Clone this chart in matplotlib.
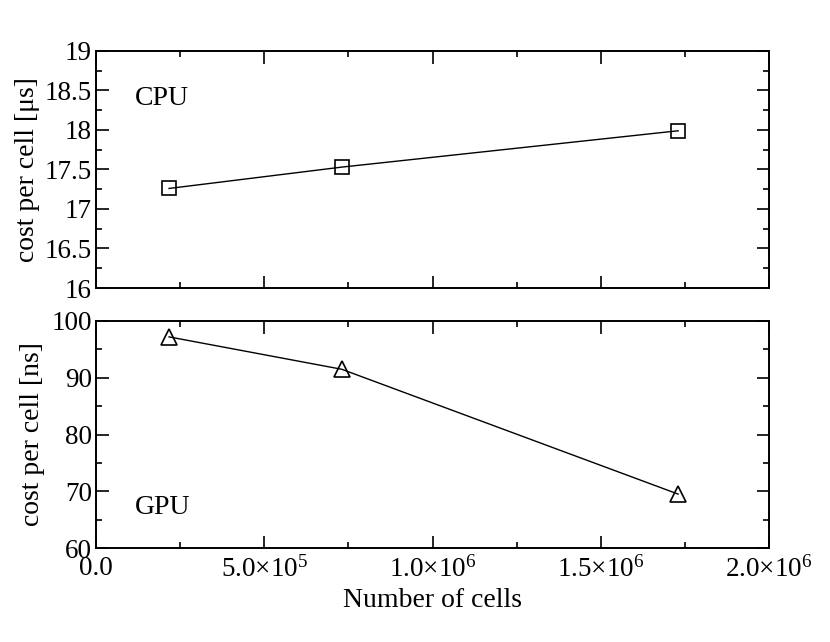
import matplotlib
matplotlib.use("Agg")
import matplotlib.pyplot as plt
from matplotlib.ticker import MultipleLocator, FixedLocator, FixedFormatter

plt.rcParams['font.family'] = ['Liberation Serif', 'DejaVu Serif']
plt.rcParams['mathtext.fontset'] = 'custom'
plt.rcParams['mathtext.rm'] = 'Liberation Serif'
plt.rcParams['mathtext.it'] = 'Liberation Serif:italic'

# data
n_cells = [2.17e5, 7.30e5, 1.73e6]
cpu_cost_us = [17.26, 17.53, 17.99]
gpu_cost_ns = [97.2, 91.5, 69.5]

x_ticks = [0, 5e5, 1e6, 1.5e6, 2e6]
x_tick_labels = ["0.0", r"5.0$\times$10$^{5}$", r"1.0$\times$10$^{6}$",
                 r"1.5$\times$10$^{6}$", r"2.0$\times$10$^{6}$"]

TICK_FS = 19.5
LABEL_FS = 20


def style_axes(ax):
    for s in ax.spines.values():
        s.set_linewidth(1.4)
    ax.tick_params(which='both', direction='in', top=True, right=True,
                   width=1.2, labelsize=TICK_FS, pad=3)
    ax.tick_params(which='major', length=9)
    ax.tick_params(which='minor', length=4.5)
    ax.set_xlim(0, 2e6)
    ax.xaxis.set_major_locator(FixedLocator(x_ticks))
    ax.xaxis.set_minor_locator(MultipleLocator(2.5e5))


fig = plt.figure(figsize=(8.3, 6.42), dpi=100)
ax1 = fig.add_axes([0.1157, 0.5514, 0.8108, 0.3692])
ax2 = fig.add_axes([0.1157, 0.1464, 0.8108, 0.3536])

# CPU panel
ax1.plot(n_cells, cpu_cost_us, color='black', lw=1.0, marker='s', ms=10,
         mfc='none', mec='black', mew=1.2)
style_axes(ax1)
ax1.set_ylim(16, 19)
ax1.set_yticks([16, 16.5, 17, 17.5, 18, 18.5, 19])
ax1.set_yticklabels(["16", "16.5", "17", "17.5", "18", "18.5", "19"])
ax1.yaxis.set_minor_locator(MultipleLocator(0.25))
ax1.tick_params(labelbottom=False)
ax1.set_ylabel("cost per cell [μs]", fontsize=LABEL_FS, labelpad=3)
ax1.text(0.057, 0.80, "CPU", transform=ax1.transAxes, fontsize=LABEL_FS,
         va='center', ha='left')

# GPU panel
ax2.plot(n_cells, gpu_cost_ns, color='black', lw=1.0, marker='^', ms=11,
         mfc='none', mec='black', mew=1.2)
style_axes(ax2)
ax2.set_ylim(60, 100)
ax2.yaxis.set_major_locator(MultipleLocator(10))
ax2.yaxis.set_minor_locator(MultipleLocator(5))
ax2.xaxis.set_major_formatter(FixedFormatter(x_tick_labels))
ax2.tick_params(axis='x', pad=6)
ax2.set_xlabel("Number of cells", fontsize=LABEL_FS, labelpad=4)
ax2.set_ylabel("cost per cell [ns]", fontsize=LABEL_FS, labelpad=4.5)
ax2.text(0.057, 0.18, "GPU", transform=ax2.transAxes, fontsize=LABEL_FS,
         va='center', ha='left')

fig.savefig("out.png", dpi=100)
